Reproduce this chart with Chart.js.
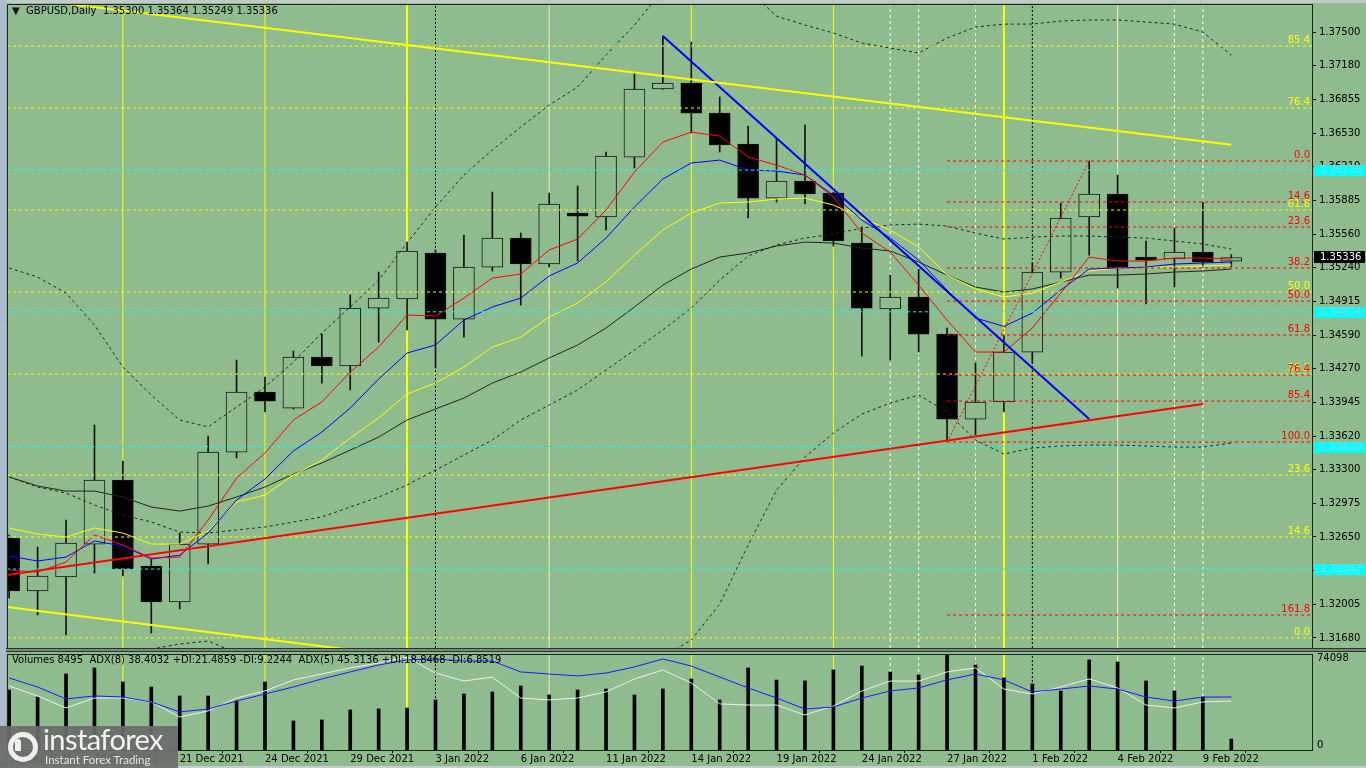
<!DOCTYPE html>
<html>
<head>
<meta charset="utf-8">
<title>GBPUSD Daily</title>
<script src="https://cdn.jsdelivr.net/npm/chart.js@4.4.1/dist/chart.umd.min.js"></script>
<style>
  html, body { margin:0; padding:0; width:1366px; height:768px; overflow:hidden; background:#8fbc8f; font-family:"DejaVu Sans", sans-serif; }
  canvas { position:absolute; left:0; }
  #mainChart { top:0; }
  #volChart { top:652px; }
  .txt { position:absolute; font-size:10px; color:#000; white-space:pre; line-height:12px; }
  #hdr { left:12px; top:5px; }
  #volHdr { left:12px; top:654px; }
  #vmax { left:1317px; top:652px; }
  #vmin { left:1317px; top:739px; }
  #sep { position:absolute; left:0; top:648px; width:1366px; height:4px; background:#7a8a7a; border-top:1px solid #2a342a; border-bottom:1px solid #2a342a; box-sizing:border-box; }
  #leftStrip { position:absolute; left:0; top:0; width:6px; height:768px; background:#aebcd0; }
  #topStrip { position:absolute; left:0; top:0; width:1366px; height:3px; background:#c4c8cc; }
  #botStrip { position:absolute; left:0; top:766px; width:1366px; height:2px; background:#c8ccd0; }
  #logo { position:absolute; left:0; top:726px; width:178px; height:42px; background:rgba(108,108,108,0.93); overflow:hidden; }
  #logoIcon { position:absolute; left:8px; top:6px; width:20px; height:20px; border:5px solid #eeeeee; border-radius:50%; }
  #logoDot { position:absolute; left:15px; top:13px; width:6px; height:12px; background:#eeeeee; border-radius:3px 3px 0 0; }
  #logoText { position:absolute; left:43px; top:-5px; font-family:Lato, "Open Sans", sans-serif; font-size:29px; color:#f2f2f2; letter-spacing:-0.6px; }
  #logoSub { position:absolute; left:45px; top:27px; font-family:Lato, "Open Sans", sans-serif; font-size:11.5px; color:#e4e4e4; }
</style>
</head>
<body>
<div id="topStrip"></div>
<canvas id="mainChart" width="1366" height="651"></canvas>
<div id="sep"></div>
<canvas id="volChart" width="1366" height="116"></canvas>
<div id="leftStrip"></div>
<div id="botStrip"></div>
<div id="hdr" class="txt">▼  GBPUSD,Daily  1.35300 1.35364 1.35249 1.35336</div>
<div id="volHdr" class="txt">Volumes 8495  ADX(8) 38.4032 +DI:21.4859 -DI:9.2244  ADX(5) 45.3136 +DI:18.8468 -DI:6.8519</div>
<div id="vmax" class="txt">74098</div>
<div id="vmin" class="txt">0</div>
<div id="logo"><div id="logoIcon"></div><div id="logoDot"></div><div id="logoText">instaforex</div><div id="logoSub">Instant Forex Trading</div></div>
<script>
// ================= DATA =================
const categories = ['13 Dec 2021','14 Dec 2021','15 Dec 2021','16 Dec 2021','17 Dec 2021','20 Dec 2021','21 Dec 2021','22 Dec 2021','23 Dec 2021','24 Dec 2021','27 Dec 2021','28 Dec 2021','29 Dec 2021','30 Dec 2021','31 Dec 2021','3 Jan 2022','4 Jan 2022','5 Jan 2022','6 Jan 2022','7 Jan 2022','10 Jan 2022','11 Jan 2022','12 Jan 2022','13 Jan 2022','14 Jan 2022','17 Jan 2022','18 Jan 2022','19 Jan 2022','20 Jan 2022','21 Jan 2022','24 Jan 2022','25 Jan 2022','26 Jan 2022','27 Jan 2022','28 Jan 2022','31 Jan 2022','1 Feb 2022','2 Feb 2022','3 Feb 2022','4 Feb 2022','7 Feb 2022','8 Feb 2022','9 Feb 2022','10 Feb 2022'];
const dateTickIdx = [0,3,6,9,12,15,18,21,24,27,30,33,36,39,42];

const open  = [1.32640,1.32131,1.32265,1.32582,1.33197,1.32371,1.32025,1.32582,1.33466,1.34043,1.33889,1.34379,1.34293,1.34850,1.34937,1.35379,1.34744,1.35244,1.35523,1.35273,1.35763,1.35725,1.36301,1.36955,1.37012,1.36724,1.36426,1.35907,1.36071,1.35955,1.35475,1.34841,1.34956,1.34600,1.33783,1.33947,1.34427,1.35196,1.35725,1.35946,1.35340,1.35321,1.35388,1.35300];
const high  = [1.32669,1.32553,1.32813,1.33726,1.33380,1.32438,1.32688,1.33620,1.34350,1.34187,1.34437,1.34600,1.34975,1.35196,1.35484,1.35408,1.35552,1.35965,1.35571,1.35955,1.36023,1.36349,1.37118,1.37464,1.37406,1.36878,1.36599,1.36484,1.36609,1.35965,1.35629,1.35167,1.35225,1.34658,1.34322,1.34591,1.35283,1.35859,1.36263,1.36128,1.35494,1.35619,1.35869,1.35364];
const low   = [1.32063,1.31900,1.31708,1.32303,1.32275,1.31727,1.31958,1.32390,1.33409,1.33851,1.33880,1.34129,1.34062,1.34523,1.34639,1.34274,1.34571,1.35206,1.34879,1.35244,1.35302,1.35600,1.36196,1.36950,1.36532,1.36349,1.35715,1.35869,1.35850,1.35446,1.34389,1.34350,1.34427,1.33565,1.33630,1.33851,1.34322,1.35138,1.35359,1.35042,1.34889,1.35052,1.35244,1.35249];
const close = [1.32131,1.32275,1.32592,1.33197,1.32342,1.32025,1.32582,1.33466,1.34043,1.33956,1.34379,1.34293,1.34850,1.34946,1.35398,1.34744,1.35244,1.35523,1.35273,1.35850,1.35734,1.36311,1.36955,1.37012,1.36724,1.36417,1.35907,1.36071,1.35946,1.35494,1.34850,1.34956,1.34600,1.33783,1.33947,1.34427,1.35196,1.35715,1.35946,1.35235,1.35311,1.35388,1.35292,1.35336];

const maRed    = [1.32332,1.32313,1.32409,1.32669,1.32573,1.32448,1.32457,1.32813,1.33216,1.33457,1.33774,1.33947,1.34235,1.34475,1.34783,1.34773,1.34946,1.35138,1.35177,1.35408,1.35513,1.35792,1.36157,1.36445,1.36541,1.36503,1.36301,1.36224,1.36128,1.35917,1.35571,1.35388,1.35071,1.34735,1.34427,1.34427,1.34658,1.34994,1.35340,1.35302,1.35302,1.35331,1.35331,1.35321];
const maBlue   = [1.32467,1.32419,1.32457,1.32611,1.32563,1.32438,1.32476,1.32688,1.33005,1.33207,1.33476,1.33658,1.33889,1.34168,1.34418,1.34495,1.34735,1.34860,1.34946,1.35158,1.35283,1.35523,1.35821,1.36090,1.36244,1.36272,1.36176,1.36167,1.36128,1.35936,1.35696,1.35523,1.35311,1.35023,1.34754,1.34674,1.34802,1.35023,1.35225,1.35235,1.35244,1.35273,1.35283,1.35292];
const maYellow = [1.32736,1.32678,1.32649,1.32736,1.32688,1.32582,1.32582,1.32707,1.32986,1.33053,1.33245,1.33389,1.33601,1.33793,1.34024,1.34129,1.34283,1.34475,1.34571,1.34764,1.34898,1.35100,1.35359,1.35600,1.35763,1.35859,1.35869,1.35898,1.35907,1.35840,1.35715,1.35600,1.35436,1.35167,1.35033,1.34956,1.34994,1.35100,1.35207,1.35235,1.35244,1.35244,1.35254,1.35264];
const maDark   = [1.33226,1.33140,1.33091,1.33091,1.33034,1.32938,1.32899,1.32947,1.33034,1.33130,1.33255,1.33361,1.33485,1.33610,1.33774,1.33880,1.33985,1.34129,1.34235,1.34370,1.34495,1.34658,1.34860,1.35071,1.35225,1.35340,1.35379,1.35446,1.35484,1.35475,1.35427,1.35398,1.35292,1.35167,1.35052,1.35004,1.35033,1.35100,1.35167,1.35167,1.35177,1.35196,1.35206,1.35225];

const bandUpper = [1.35235,1.35148,1.34994,1.34687,1.34283,1.34014,1.33774,1.33707,1.33899,1.34091,1.34331,1.34610,1.34860,1.35119,1.35475,1.35821,1.36128,1.36369,1.36590,1.36801,1.36974,1.37281,1.37570,1.37906,1.38002,1.38050,1.37906,1.37656,1.37570,1.37493,1.37397,1.37349,1.37301,1.37445,1.37550,1.37579,1.37579,1.37608,1.37618,1.37618,1.37599,1.37579,1.37502,1.37281];
const bandMid   = [1.33226,1.33130,1.33072,1.32957,1.32861,1.32794,1.32697,1.32688,1.32717,1.32746,1.32794,1.32842,1.32938,1.33034,1.33149,1.33293,1.33437,1.33582,1.33774,1.33918,1.34062,1.34254,1.34447,1.34639,1.34850,1.35119,1.35350,1.35456,1.35523,1.35561,1.35619,1.35648,1.35657,1.35638,1.35571,1.35513,1.35532,1.35542,1.35542,1.35532,1.35523,1.35494,1.35465,1.35417];
const bandLower = [1.31218,1.31112,1.31150,1.31227,1.31439,1.31573,1.31621,1.31650,1.31535,1.31400,1.31256,1.31073,1.31016,1.30948,1.30824,1.30766,1.30747,1.30795,1.30958,1.31035,1.31150,1.31227,1.31352,1.31496,1.31660,1.32006,1.32573,1.33101,1.33418,1.33649,1.33831,1.33937,1.34014,1.33851,1.33582,1.33447,1.33505,1.33524,1.33534,1.33534,1.33524,1.33514,1.33514,1.33553];

const volumes = [46300,40900,58700,63300,52500,48600,41700,41700,37800,52500,22400,23200,30900,31700,32400,38600,43200,44800,49400,42500,46300,47100,42500,47100,54800,38600,63300,54000,53300,61800,64800,60200,57900,74098,65600,55600,51000,45500,69500,67900,53300,45500,40900,8495];
const adx8 = [45.0,39.4,31.9,33.8,33.1,30.0,23.8,25.6,30.6,35.0,39.4,44.4,48.8,53.1,56.3,56.9,55.6,55.6,48.8,47.5,46.3,48.1,51.9,56.9,52.5,45.6,38.8,32.5,25.6,26.9,32.5,36.9,38.8,43.8,47.5,43.8,36.3,38.1,40.0,38.1,33.1,30.6,33.1,33.1];
const adx5 = [40.0,33.8,26.3,32.5,32.5,30.0,20.6,24.4,32.5,36.9,43.8,47.5,51.3,54.4,58.1,48.1,43.1,45.6,32.5,31.3,32.5,36.3,44.4,50.0,41.9,28.8,28.1,28.1,21.9,27.5,36.9,43.1,43.1,48.8,51.3,38.1,35.0,39.4,44.4,38.8,28.1,26.3,30.0,30.6];

const priceTicks = [1.37500,1.37180,1.36855,1.36530,1.36210,1.35885,1.35560,1.35240,1.34915,1.34590,1.34270,1.33945,1.33620,1.33300,1.32975,1.32650,1.32330,1.32005,1.31680];

const yellowFibLevels = [1.31680,1.32650,1.33245,1.34216,1.35004,1.35792,1.36772,1.37368];
const yellowFibLabels = ['0.0','14.6','23.6','38.2','50.0','61.8','76.4','85.4'];
const redFibLevels = [1.36263,1.35869,1.35629,1.35235,1.34917,1.34591,1.34206,1.33956,1.33562,1.31900];
const redFibLabels = ['0.0','14.6','23.6','38.2','50.0','61.8','76.4','85.4','100.0','161.8'];
const redFibStart = 33;
const cyanLevels = [1.36176,1.34814,1.33519,1.32342];
const lastPrice = 1.35336;

const trendYellowTop    = [[-0.1,1.37844],[43,1.36419]];
const trendYellowBottom = [[-0.1,1.31977],[14,1.31498]];
const trendRed          = [[-0.1,1.32283],[42,1.33927]];
const trendBlue         = [[23,1.37464],[38,1.33783]];
const fibTrend          = [[33,1.33562],[38,1.36263]];

const vYellow = [4,9,24,29];
const vYellowThick = [14,35];
const vPale = [19,39];
const vWhiteDash = [31,32,34,41,42];
const vMonth = [15,36];

// ================= CHART SETUP =================
const X_MIN = -0.077, X_MAX = 45.84;
const Y_MIN = 1.31583, Y_MAX = 1.37772;
const VOL_MAX = 74098;
const BG = '#8fbc8f';

Chart.defaults.font.family = '"DejaVu Sans", sans-serif';
Chart.defaults.font.size = 10;
Chart.defaults.color = '#000';

function lineDs(data, color, width, dash, order, yAxisID) {
  return { type:'line', data, borderColor:color, borderWidth:width, borderDash:dash || [],
           pointRadius:0, pointHoverRadius:0, fill:false, tension:0, order, yAxisID: yAxisID || 'y' };
}
const series = arr => arr.map((v,i) => ({x:i, y:v}));
const seg = a => a.map(p => ({x:p[0], y:p[1]}));

function verticals(lo, hi, axis) {
  const out = [];
  vYellow.forEach(i => out.push(lineDs([{x:i,y:lo},{x:i,y:hi}], '#ffff00', 1, [], 100, axis)));
  vYellowThick.forEach(i => out.push(lineDs([{x:i,y:lo},{x:i,y:hi}], '#ffff00', 2, [], 100, axis)));
  vPale.forEach(i => out.push(lineDs([{x:i,y:lo},{x:i,y:hi}], '#eef2b0', 1, [], 100, axis)));
  vWhiteDash.forEach(i => out.push(lineDs([{x:i,y:lo},{x:i,y:hi}], i === 34 ? '#f4f4c8' : '#ffffff', 1, [3,3], 100, axis)));
  vMonth.forEach(i => out.push(lineDs([{x:i,y:lo},{x:i,y:hi}], '#000000', 1, [2,2], 100, axis)));
  return out;
}

const mainDatasets = [];
verticals(Y_MIN, Y_MAX, 'y').forEach(d => mainDatasets.push(d));

// candles
const bull = close.map((c,i) => c >= open[i]);
mainDatasets.push({ type:'bar', data: low.map((l,i) => ({x:i, y:[l, high[i]]})),
  backgroundColor:'#111111', borderWidth:0, maxBarThickness:1, barPercentage:1, categoryPercentage:1, grouped:false, order:61, yAxisID:'y' });
mainDatasets.push({ type:'bar', data: open.map((o,i) => ({x:i, y:[o, close[i]]})),
  backgroundColor: bull.map(b => b ? BG : '#000000'), borderColor:'#161616', borderWidth:1, borderSkipped:false,
  maxBarThickness:21, barPercentage:1, categoryPercentage:1, grouped:false, order:60, yAxisID:'y' });

// bands
mainDatasets.push(lineDs(series(bandUpper), '#1c2a1c', 1, [3,3], 45));
mainDatasets.push(lineDs(series(bandMid),   '#1c2a1c', 1, [3,3], 45));
mainDatasets.push(lineDs(series(bandLower), '#1c2a1c', 1, [3,3], 45));
// moving averages
mainDatasets.push(lineDs(series(maDark),   '#1e261e', 1, [], 40));
mainDatasets.push(lineDs(series(maYellow), '#ffff00', 1, [], 39));
mainDatasets.push(lineDs(series(maBlue),   '#0000ff', 1, [], 38));
mainDatasets.push(lineDs(series(maRed),    '#ff0000', 1, [], 37));
// fib / horizontal levels
yellowFibLevels.forEach(v => mainDatasets.push(lineDs([{x:X_MIN,y:v},{x:X_MAX,y:v}], '#ffff00', 1, [3,3], 25)));
cyanLevels.forEach(v => mainDatasets.push(lineDs([{x:X_MIN,y:v},{x:X_MAX,y:v}], '#00ffff', 1, [3,3], 24)));
redFibLevels.forEach(v => mainDatasets.push(lineDs([{x:redFibStart,y:v},{x:X_MAX,y:v}], '#ff0000', 1, [3,3], 23)));
// trend lines
mainDatasets.push(lineDs(seg(fibTrend), '#ff0000', 1, [2,2], 12));
mainDatasets.push(lineDs(seg(trendYellowTop), '#ffff00', 2, [], 10));
mainDatasets.push(lineDs(seg(trendYellowBottom), '#ffff00', 2, [], 10));
mainDatasets.push(lineDs(seg(trendRed), '#ff0000', 2, [], 10));
mainDatasets.push(lineDs(seg(trendBlue), '#0000ff', 2, [], 10));

const framePlugin = {
  id:'frame',
  afterDraw(chart) {
    const {ctx, chartArea:a} = chart;
    ctx.save();
    ctx.strokeStyle = '#1d281d'; ctx.lineWidth = 1;
    ctx.beginPath();
    ctx.moveTo(a.left + 0.5, a.bottom);
    ctx.lineTo(a.left + 0.5, a.top + 0.5);
    ctx.lineTo(a.right, a.top + 0.5);
    ctx.stroke();
    ctx.restore();
  }
};

const labelsPlugin = {
  id:'levelLabels',
  afterDraw(chart) {
    const {ctx, chartArea:a, scales:{y}} = chart;
    ctx.save();
    ctx.font = '10px "DejaVu Sans", sans-serif';
    ctx.textAlign = 'right'; ctx.textBaseline = 'bottom';
    ctx.fillStyle = '#ffff00';
    yellowFibLevels.forEach((v,k) => ctx.fillText(yellowFibLabels[k], a.right - 2, y.getPixelForValue(v) - 1));
    ctx.fillStyle = '#ff0000';
    redFibLevels.forEach((v,k) => ctx.fillText(redFibLabels[k], a.right - 2, y.getPixelForValue(v) - 1));
    // price boxes on axis
    ctx.textAlign = 'left'; ctx.textBaseline = 'middle';
    cyanLevels.forEach(v => {
      const py = Math.round(y.getPixelForValue(v));
      ctx.fillStyle = '#00ffff'; ctx.fillRect(a.right + 2, py - 5, 51, 11);
      ctx.fillStyle = '#86d6d6'; ctx.fillText(v.toFixed(5), a.right + 8, py + 0.5);
    });
    const lp = Math.round(y.getPixelForValue(lastPrice));
    ctx.fillStyle = '#000000'; ctx.fillRect(a.right + 2, lp - 6, 51, 12);
    ctx.fillStyle = '#ffffff'; ctx.fillText(lastPrice.toFixed(5), a.right + 8, lp + 0.5);
    ctx.restore();
  }
};

new Chart(document.getElementById('mainChart'), {
  type:'line',
  data:{ datasets: mainDatasets },
  options:{
    responsive:false, animation:false, devicePixelRatio:1, events:[],
    layout:{ padding:{ left:7, top:4, right:0, bottom:3 } },
    plugins:{ legend:{display:false}, tooltip:{enabled:false} },
    scales:{
      x:{ type:'linear', min:X_MIN, max:X_MAX, offset:false, display:false },
      y:{ type:'linear', position:'right', min:Y_MIN, max:Y_MAX,
          afterBuildTicks: s => { s.ticks = priceTicks.map(v => ({value:v})); },
          afterFit: s => { s.width = 54; s.paddingTop = 0; s.paddingBottom = 0; },
          ticks:{ autoSkip:false, padding:3, color:'#000', callback: v => Number(v).toFixed(5) },
          grid:{ display:true, drawOnChartArea:false, drawTicks:true, tickLength:4, color:'#000' },
          border:{ display:true, color:'#1d281d', width:1 } }
    }
  },
  plugins:[framePlugin, labelsPlugin]
});

// ================= VOLUME PANEL =================
const volDatasets = [];
verticals(0, VOL_MAX, 'y').forEach(d => volDatasets.push(d));
volDatasets.push({ type:'bar', data: series(volumes), backgroundColor:'#000000', borderWidth:0,
  maxBarThickness:3, barPercentage:1, categoryPercentage:1, grouped:false, order:50, yAxisID:'y' });
volDatasets.push(lineDs(series(adx5), '#eeeeee', 1, [], 20, 'yAdx'));
volDatasets.push(lineDs(series(adx8), '#1a1aff', 1, [], 19, 'yAdx'));

new Chart(document.getElementById('volChart'), {
  type:'line',
  data:{ datasets: volDatasets },
  options:{
    responsive:false, animation:false, devicePixelRatio:1, events:[],
    layout:{ padding:{ left:7, top:2, right:0, bottom:0 } },
    plugins:{ legend:{display:false}, tooltip:{enabled:false} },
    scales:{
      x:{ type:'linear', position:'bottom', min:X_MIN, max:X_MAX, offset:false,
          afterBuildTicks: s => { s.ticks = dateTickIdx.map(v => ({value:v})); },
          afterFit: s => { s.height = 18; s.paddingLeft = 0; s.paddingRight = 0; },
          ticks:{ autoSkip:false, maxRotation:0, minRotation:0, align:'start', padding:0, color:'#000',
                  callback: v => categories[v] || '' },
          grid:{ display:true, drawOnChartArea:false, drawTicks:true, tickLength:3, color:'#000' },
          border:{ display:true, color:'#1d281d', width:1 } },
      y:{ type:'linear', position:'right', min:0, max:VOL_MAX,
          afterFit: s => { s.width = 54; s.paddingTop = 0; s.paddingBottom = 0; },
          ticks:{ display:false }, grid:{ display:false },
          border:{ display:true, color:'#1d281d', width:1 } },
      yAdx:{ type:'linear', position:'left', min:0, max:60, display:false }
    }
  },
  plugins:[framePlugin]
});
</script>
</body>
</html>
